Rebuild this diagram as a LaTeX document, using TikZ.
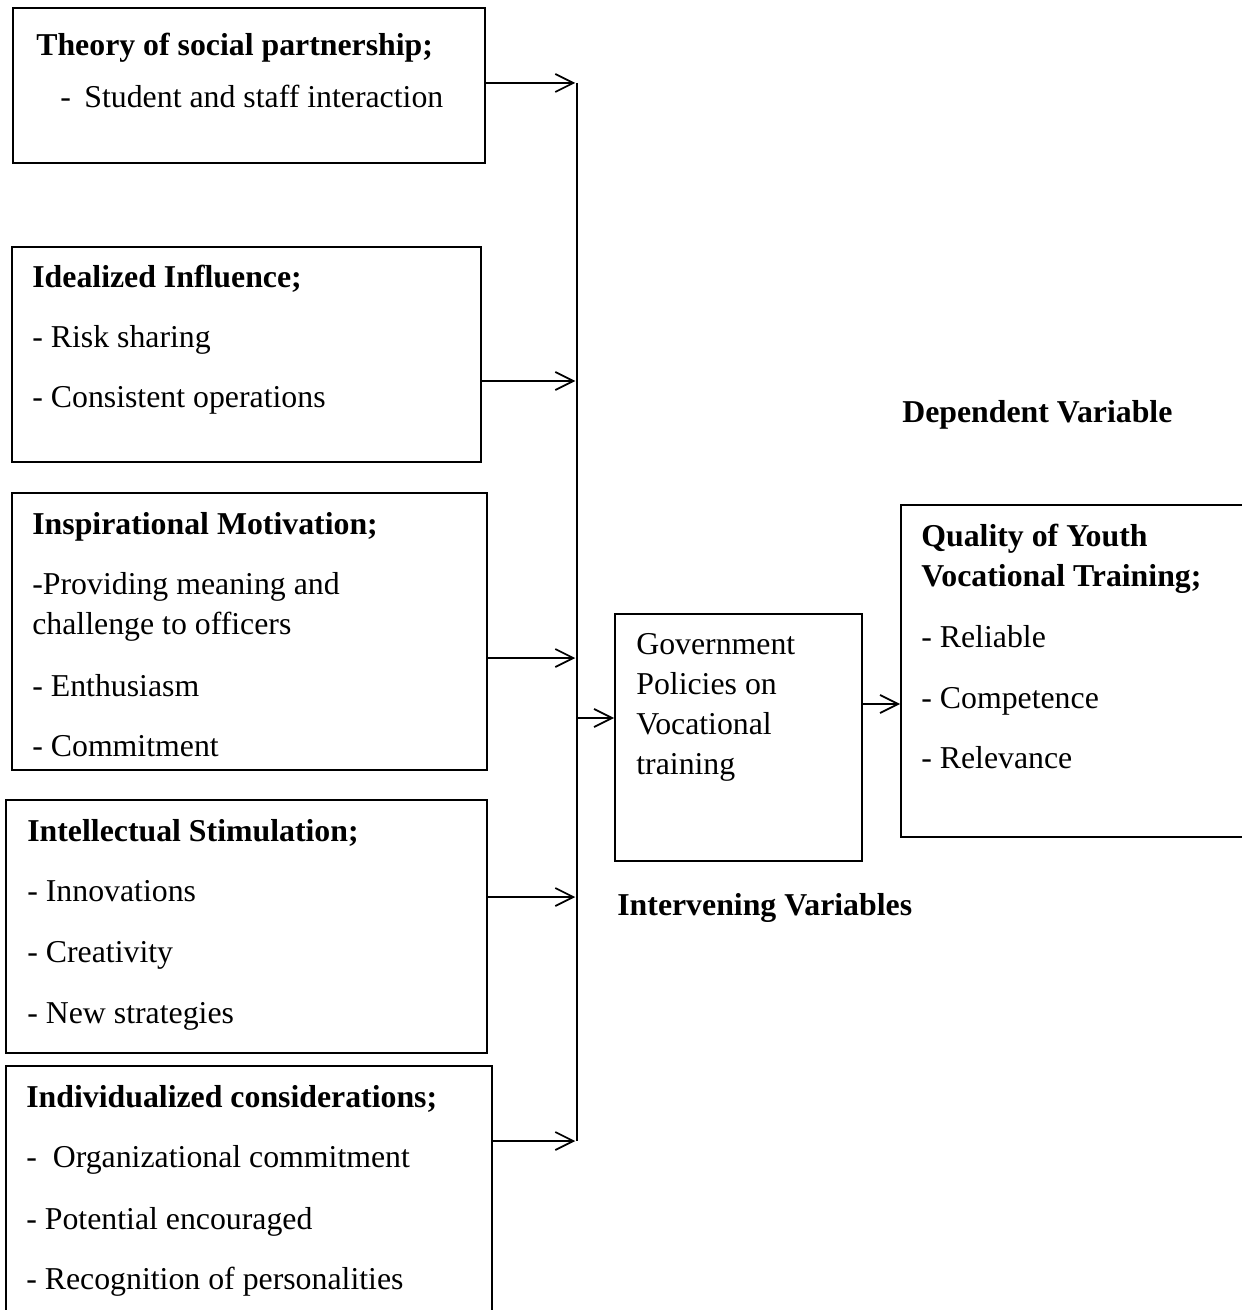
\documentclass[tikz,border=0pt]{standalone}
\usepackage{fontspec}
\setmainfont{Liberation Serif}
\usetikzlibrary{arrows.meta,fit}
\newcommand{\diagfont}{\fontsize{18.1}{22}\selectfont}

\begin{document}
\begin{tikzpicture}[x=0.02cm, y=-0.02cm, font=\diagfont,
    box/.style={draw, line width=1.1pt, inner sep=0pt},
    lbl/.style={anchor=base west, inner sep=0pt},
    ttl/.style={lbl, font=\diagfont\bfseries},
    arr/.style={line width=1pt, -{Straight Barb[length=3.6mm, width=3.6mm, line width=1pt]}}]
  \useasboundingbox (0,0) rectangle (1241,1310);

  % left column
  \node[box, fit={(13,8) (485,163)}] (thy) {};
  \node[ttl] (thyT) at (36,56) {Theory of social partnership;};
  \node[lbl] (thyA) at (60,108) {-\hspace{0.27cm}Student and staff interaction};

  \node[box, fit={(12,247) (481,462)}] (ide) {};
  \node[ttl] (ideT) at (32,288) {Idealized Influence;};
  \node[lbl] (ideA) at (32,348) {- Risk sharing};
  \node[lbl] (ideB) at (32,408) {- Consistent operations};

  \node[box, fit={(12,493) (487,770)}] (ins) {};
  \node[ttl] (insT) at (32,534) {Inspirational Motivation;};
  \node[lbl] (insA) at (32,594) {-Providing meaning and};
  \node[lbl] (insB) at (32,634) {challenge to officers};
  \node[lbl] (insC) at (32,696) {- Enthusiasm};
  \node[lbl] (insD) at (32,756) {- Commitment};

  \node[box, fit={(6,800) (487,1053)}] (int) {};
  \node[ttl] (intT) at (27,841) {Intellectual Stimulation;};
  \node[lbl] (intA) at (27,901) {- Innovations};
  \node[lbl] (intB) at (27,962) {- Creativity};
  \node[lbl] (intC) at (27,1023) {- New strategies};

  \node[box, fit={(6,1066) (492,1325)}] (ind) {};
  \node[ttl] (indT) at (26,1107) {Individualized considerations;};
  \node[lbl] (indA) at (26,1167) {-~~Organizational commitment};
  \node[lbl] (indB) at (26,1229) {- Potential encouraged};
  \node[lbl] (indC) at (26,1289) {- Recognition of personalities};

  % middle and right
  \node[box, fit={(615,614) (862,861)}] (gov) {};
  \node[lbl] (govA) at (636,654) {Government};
  \node[lbl] (govB) at (636,694) {Policies on};
  \node[lbl] (govC) at (636,734) {Vocational};
  \node[lbl] (govD) at (636,774) {training};
  \node[ttl] (intv) at (617,915) {Intervening Variables};

  \node[box, fit={(901,505) (1250,837)}] (qua) {};
  \node[ttl] (quaT) at (921,546) {Quality of Youth};
  \node[ttl] (quaU) at (921,586) {Vocational Training;};
  \node[lbl] (quaA) at (921,647) {- Reliable};
  \node[lbl] (quaB) at (921,708) {- Competence};
  \node[lbl] (quaC) at (921,768) {- Relevance};
  \node[ttl] (dep) at (902,423) {Dependent Variable};

  % collector line
  \coordinate (j1) at (577,83);
  \coordinate (j2) at (577,381);
  \coordinate (j3) at (577,658);
  \coordinate (j4) at (577,897);
  \coordinate (j5) at (577,1141);
  \coordinate (jg) at (577,718);
  \coordinate (jq) at (862,704);
  \draw[line width=1pt] (j1) -- (j5);

  \draw[arr] (thy.east |- j1) -- ([xshift=-1pt]j1);
  \draw[arr] (ide.east |- j2) -- ([xshift=-1pt]j2);
  \draw[arr] (ins.east |- j3) -- ([xshift=-1pt]j3);
  \draw[arr] (int.east |- j4) -- ([xshift=-1pt]j4);
  \draw[arr] (ind.east |- j5) -- ([xshift=-1pt]j5);
  \draw[arr] (jg) -- (gov.west |- jg);
  \draw[arr] (jq) -- (qua.west |- jq);
\end{tikzpicture}
\end{document}
